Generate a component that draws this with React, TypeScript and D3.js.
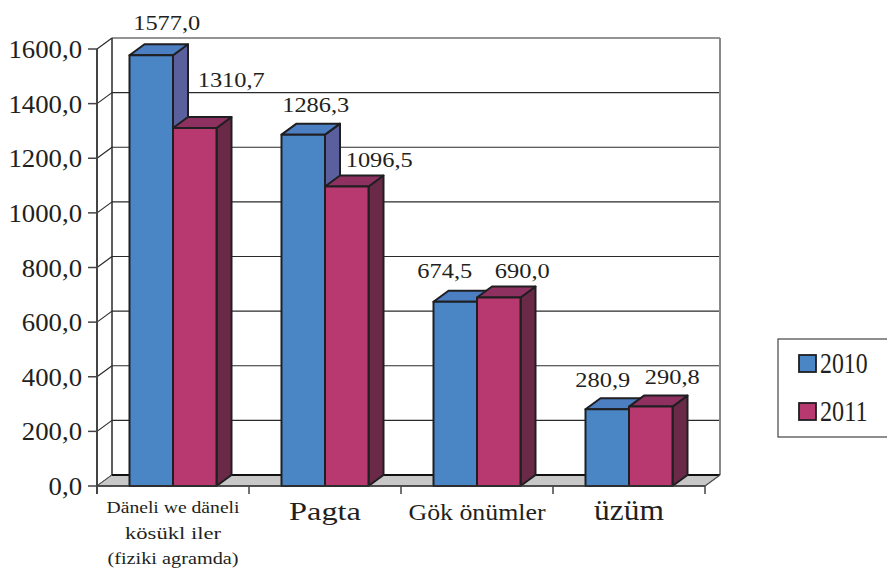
import React, { useEffect, useRef } from "react";
import * as d3 from "d3";

const categories = ["Däneli we däneli|kösükl iler|(fiziki agramda)", "Pagta", "Gök önümler", "üzüm"];
const series = ["2010", "2011"];
const values2010 = [1577.0, 1286.3, 674.5, 280.9];
const values2011 = [1310.7, 1096.5, 690.0, 290.8];
const yTicks = [0, 200, 400, 600, 800, 1000, 1200, 1400, 1600];

// style: label nudges relative to bar top (dx, dy), per category [2010, 2011]
const labelNudge = [
  [[8, -14], [29, -30]],
  [[5, -12], [25, -9]],
  [[-18, -13], [16, -9]],
  [[-12, -11], [14, -12]],
];
const catStyle = [
  { size: 17.5, lens: [133, 96, 131], lh: 25.5, y: 513 },
  { size: 26, lens: [72], lh: 0, y: 520 },
  { size: 24, lens: [137], lh: 0, y: 520 },
  { size: 30, lens: [70], lh: 0, y: 520 },
];

const W = 887, H = 569;
const X0 = 97, X1 = 705, Y0 = 486, Y1 = 49;
const DX = 15, DY = -11;
const COLORS = {
  "2010": { front: "#4a86c6", top: "#4c7ec2", side: "#5a5f9e" },
  "2011": { front: "#b83870", top: "#8f3160", side: "#6a2947" },
};
const STROKE = "#1f1f22";
const FONT = "Liberation Serif";

// width of a numeric string in Times metrics (digits 0.5em, comma 0.25em)
const numWidth = (s: string, size: number, sx: number) =>
  s.split("").reduce((a, ch) => a + (ch === "," ? 0.25 : 0.5), 0) * size * sx;

export default function App() {
  const ref = useRef<SVGSVGElement>(null);
  const y = d3.scaleLinear().domain([0, 1600]).range([Y0, Y1]);
  const x = d3.scaleBand<string>().domain(categories).range([X0, X1]).paddingInner(0).paddingOuter(0);
  const groupW = 87;
  const xs = d3.scaleBand<string>().domain(series).range([0, groupW]);
  const data = [values2010, values2011];

  useEffect(() => {
    if (!ref.current) return;
    ref.current.querySelectorAll("text").forEach((el) => {
      (el as any).style.setProperty("font-family", '"Liberation Serif", "Times New Roman", serif', "important");
      (el as any).style.setProperty("font-weight", "normal", "important");
    });
  }, []);

  const bars: any[] = [];
  categories.forEach((c, i) => {
    const cx = (x(c) as number) + x.bandwidth() / 2;
    series.forEach((s, j) => {
      const v = data[j][i];
      const bx = cx - groupW / 2 + (xs(s) as number);
      const bw = xs.bandwidth();
      const by = y(v);
      bars.push({ c, s, v, bx, bw, by, i, j });
    });
  });

  const fmt = (v: number) => v.toFixed(1).replace(".", ",");

  return (
    <svg ref={ref} width={W} height={H} style={{ position: "absolute", left: 0, top: 0 }}>
      <rect x={0} y={0} width={W} height={H} fill="#fff" />
      {yTicks.map((t) => (
        <g key={"g" + t}>
          {t > 0 && <line x1={X0 + DX} x2={X1 + DX} y1={y(t) + DY} y2={y(t) + DY} stroke="#2a2a2a" strokeWidth={1.2} />}
          <line x1={X0} x2={X0 + DX} y1={y(t)} y2={y(t) + DY} stroke="#2a2a2a" strokeWidth={1.2} />
        </g>
      ))}
      <line x1={X0 + DX} x2={X0 + DX} y1={y(1600) + DY} y2={Y0 + DY} stroke="#2a2a2a" strokeWidth={1.5} />
      <line x1={X1 + DX} x2={X1 + DX} y1={y(1600) + DY} y2={Y0 + DY} stroke="#8a8a8a" strokeWidth={2} />
      <polygon
        points={`${X0},${Y0} ${X1},${Y0} ${X1 + DX},${Y0 + DY} ${X0 + DX},${Y0 + DY}`}
        fill="#c8c8c8"
        stroke="#555"
        strokeWidth={1}
      />
      <line x1={X0 + DX} x2={X1 + DX} y1={Y0 + DY} y2={Y0 + DY} stroke="#111" strokeWidth={2} />
      {bars.map((b) => {
        const col = (COLORS as any)[b.s];
        const { bx, bw, by } = b;
        return (
          <g key={b.c + b.s} stroke={STROKE} strokeWidth={2} strokeLinejoin="round">
            <polygon points={`${bx + bw},${by} ${bx + bw + DX},${by + DY} ${bx + bw + DX},${Y0 + DY} ${bx + bw},${Y0}`} fill={col.side} />
            <polygon points={`${bx},${by} ${bx + DX},${by + DY} ${bx + bw + DX},${by + DY} ${bx + bw},${by}`} fill={col.top} />
            <rect x={bx} y={by} width={bw} height={Y0 - by} fill={col.front} />
          </g>
        );
      })}
      <line x1={X0} x2={X1} y1={Y0} y2={Y0} stroke="#333" strokeWidth={1.5} />
      <line x1={X1} x2={X1 + DX} y1={Y0} y2={Y0 + DY} stroke="#555" strokeWidth={1.2} />
      <line x1={X0} x2={X0} y1={Y1} y2={Y0 + 8} stroke="#444" strokeWidth={2} />
      {yTicks.map((t) => (
        <g key={"t" + t}>
          <line x1={X0 - 9} x2={X0} y1={y(t)} y2={y(t)} stroke="#444" strokeWidth={1.5} />
          <text
            x={X0 - 15}
            y={y(t) + 9}
            textAnchor="end"
            fontSize={25}
            fill="#231f20"
            fontFamily={FONT}
            textLength={numWidth(fmt(t), 25, 1.07)}
            lengthAdjust="spacingAndGlyphs"
          >
            {fmt(t)}
          </text>
        </g>
      ))}
      {[...categories.map((c) => x(c) as number), X1].map((px, k) => (
        <line key={"ct" + k} x1={px} x2={px} y1={Y0} y2={Y0 + 8} stroke="#444" strokeWidth={1.5} />
      ))}
      {categories.map((c, i) => {
        const cx = (x(c) as number) + x.bandwidth() / 2;
        const st = catStyle[i];
        const lines = c.split("|");
        return lines.map((ln, k) => (
          <text
            key={c + k}
            x={cx}
            y={st.y + k * st.lh}
            textAnchor="middle"
            fontSize={st.size}
            fill="#231f20"
            fontFamily={FONT}
            textLength={st.lens[k]}
            lengthAdjust="spacingAndGlyphs"
          >
            {ln}
          </text>
        ));
      })}
      {bars.map((b) => {
        const [ndx, ndy] = labelNudge[b.i][b.j];
        const lx = b.bx + b.bw / 2 + DX / 2 + ndx;
        const ly = b.by + DY + ndy;
        const s = fmt(b.v);
        return (
          <text
            key={"v" + b.c + b.s}
            x={lx}
            y={ly}
            textAnchor="middle"
            fontSize={22}
            fill="#231f20"
            fontFamily={FONT}
            textLength={numWidth(s, 22, 1.11)}
            lengthAdjust="spacingAndGlyphs"
          >
            {s}
          </text>
        );
      })}
      <rect x={778} y={339} width={130} height={98} fill="#fff" stroke="#444" strokeWidth={1.2} />
      {series.map((s, j) => (
        <g key={"l" + s}>
          <rect x={799} y={355 + j * 48} width={17} height={17} fill={(COLORS as any)[s].front} stroke={STROKE} strokeWidth={1.8} />
          <text
            x={820}
            y={373 + j * 48}
            fontSize={29}
            fill="#231f20"
            fontFamily={FONT}
            textLength={numWidth(s, 29, 0.82)}
            lengthAdjust="spacingAndGlyphs"
          >
            {s}
          </text>
        </g>
      ))}
    </svg>
  );
}
